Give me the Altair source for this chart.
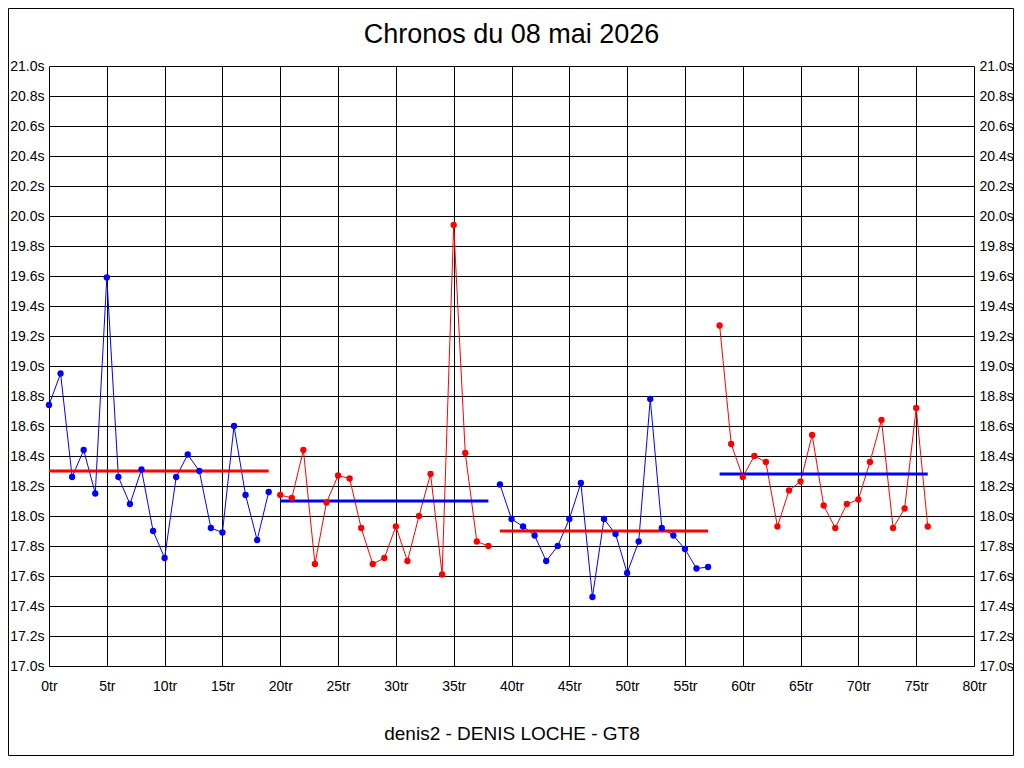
import altair as alt
import pandas as pd

laps = list(range(77))
times = [
    18.74, 18.95, 18.26, 18.44, 18.15, 19.59, 18.26, 18.08, 18.31, 17.90,
    17.72, 18.26, 18.41, 18.30, 17.92, 17.89, 18.60, 18.14, 17.84, 18.16,
    18.14, 18.12, 18.44, 17.68, 18.09, 18.27, 18.25, 17.92, 17.68, 17.72,
    17.93, 17.70, 18.00, 18.28, 17.61, 19.94, 18.42, 17.83, 17.80,
    18.21, 17.98, 17.93, 17.87, 17.70, 17.80, 17.98, 18.22, 17.46, 17.98,
    17.88, 17.62, 17.83, 18.78, 17.92, 17.87, 17.78, 17.65, 17.66,
    19.27, 18.48, 18.26, 18.40, 18.36, 17.93, 18.17, 18.23, 18.54, 18.07,
    17.92, 18.08, 18.11, 18.36, 18.64, 17.92, 18.05, 18.72, 17.93,
]
segments = [0] * 20 + [1] * 19 + [2] * 19 + [3] * 19
seg_colors = ["#0000ff", "#ff0000", "#0000ff", "#ff0000"]

avg_start = [0, 20, 39, 58]
avg_end = [19, 38, 57, 76]
avg_value = [18.30, 18.10, 17.90, 18.28]
avg_colors = ["#ff0000", "#0000ff", "#ff0000", "#0000ff"]

x_ticks = [0, 5, 10, 15, 20, 25, 30, 35, 40, 45, 50, 55, 60, 65, 70, 75, 80]
y_ticks = [17.0, 17.2, 17.4, 17.6, 17.8, 18.0, 18.2, 18.4, 18.6, 18.8, 19.0,
           19.2, 19.4, 19.6, 19.8, 20.0, 20.2, 20.4, 20.6, 20.8, 21.0]

title_text = "Chronos du 08 mai 2026"
x_title = "denis2 - DENIS LOCHE - GT8"

df = pd.DataFrame({
    "lap": laps,
    "time": times,
    "seg": segments,
    "color": [seg_colors[s] for s in segments],
})
avg_df = pd.DataFrame({
    "start": avg_start,
    "end": avg_end,
    "value": avg_value,
    "color": avg_colors,
})

FONT = "Liberation Sans"
xscale = alt.Scale(domain=[0, 80], nice=False, zero=False)
yscale = alt.Scale(domain=[17, 21], nice=False, zero=False)

x_axis = alt.Axis(
    values=x_ticks, labelExpr="datum.value + 'tr'", grid=True,
    gridColor="black", gridOpacity=1, gridWidth=1, ticks=False, tickSize=0,
    domain=False, labelPadding=13, labelFont=FONT, labelFontSize=14,
    labelColor="black", labelFlush=False, labelOverlap=False,
    title=x_title, titleFont=FONT, titleFontSize=19, titleFontWeight="normal",
    titleColor="black", titleBaseline="alphabetic", titleY=73,
)
y_axis_left = alt.Axis(
    values=y_ticks, labelExpr="format(datum.value, '.1f') + 's'", grid=True,
    gridColor="black", gridOpacity=1, gridWidth=1, ticks=False, tickSize=0,
    domain=False, labelPadding=5, labelFont=FONT, labelFontSize=14,
    labelColor="black", labelFlush=False, labelOverlap=False, title=None,
)
y_axis_right = alt.Axis(
    orient="right", values=y_ticks,
    labelExpr="format(datum.value, '.1f') + 's'", grid=False,
    ticks=False, tickSize=0, domain=False, labelPadding=5, labelFont=FONT,
    labelFontSize=14, labelColor="black", labelFlush=False,
    labelOverlap=False, title=None,
)

X = alt.X("lap:Q", scale=xscale, axis=x_axis)
Y = alt.Y("time:Q", scale=yscale, axis=y_axis_left)

frame = alt.Chart(pd.DataFrame({"k": [0]})).mark_rect(
    fillOpacity=0, stroke="black", strokeWidth=1
).encode(
    x=alt.value(-40.5), x2=alt.value(964.5),
    y=alt.value(-57.5), y2=alt.value(689.5),
)

lines = alt.Chart(df).mark_line(strokeWidth=1).encode(
    x=X, y=Y, detail="seg:N", color=alt.Color("color:N", scale=None)
)
rules = alt.Chart(avg_df).mark_rule(strokeWidth=3).encode(
    x=alt.X("start:Q", scale=xscale, axis=x_axis),
    x2="end:Q",
    y=alt.Y("value:Q", scale=yscale, axis=y_axis_left),
    color=alt.Color("color:N", scale=None),
)
points = alt.Chart(df).mark_circle(size=40, opacity=1).encode(
    x=X, y=Y, color=alt.Color("color:N", scale=None)
)
main = alt.layer(frame, lines, rules, points)

right = alt.Chart(df).mark_point(opacity=0).encode(
    x=alt.X("lap:Q", scale=xscale, axis=x_axis),
    y=alt.Y("time:Q", scale=yscale, axis=y_axis_right),
)

chart = alt.layer(main, right).resolve_scale(y="independent").properties(
    width=925,
    height=600,
    autosize=alt.AutoSizeParams(type="none"),
    padding={"left": 41, "top": 58, "right": 40, "bottom": 90},
    title=alt.TitleParams(
        title_text, font=FONT, fontSize=27, fontWeight="normal",
        color="black", anchor="middle", baseline="alphabetic", offset=0,
        dy=62, frame="group",
    ),
).configure_view(stroke="black", strokeWidth=1).configure(background="white")

chart.save("out.html", embed_options={"renderer": "svg", "actions": False})
